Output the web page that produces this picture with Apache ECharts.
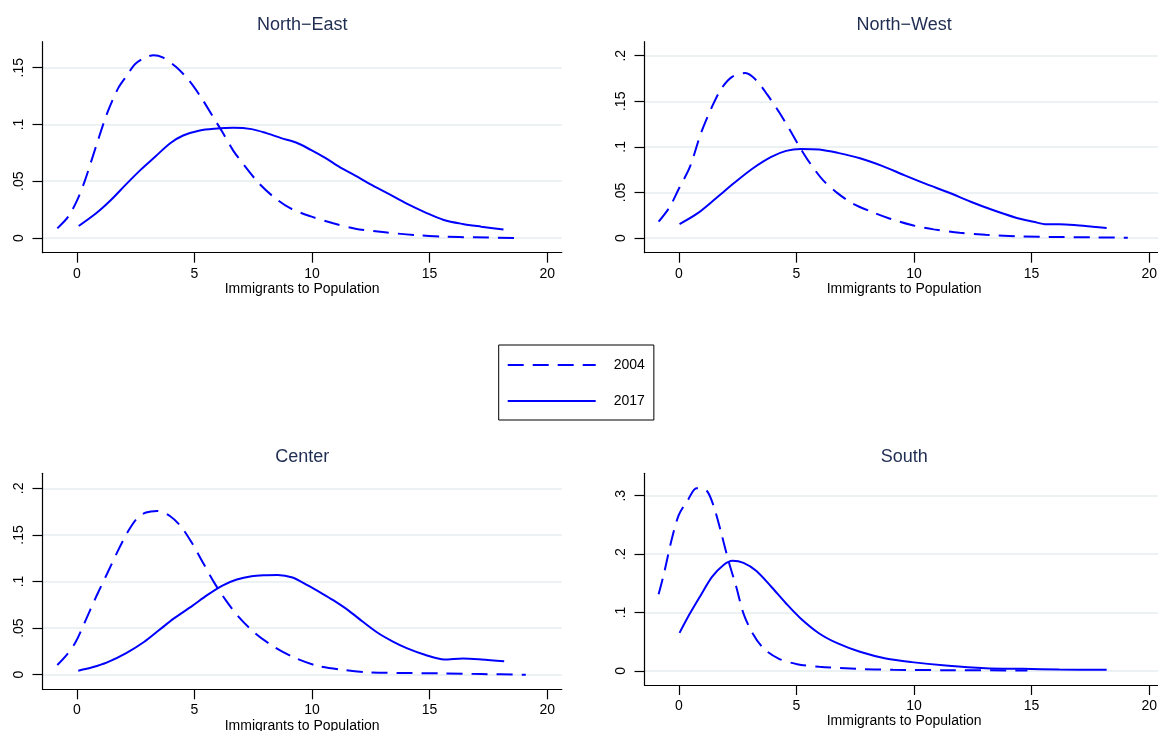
<!DOCTYPE html>
<html>
<head>
<meta charset="utf-8">
<script src="https://cdn.jsdelivr.net/npm/echarts@6/dist/echarts.min.js"></script>
<style>
html,body{margin:0;padding:0;background:#fff;}
#chart{width:1158px;height:731px;}
</style>
</head>
<body>
<div id="chart"></div>
<script>
// ---- data ----
const panelTitles = ['North\u2212East', 'North\u2212West', 'Center', 'South'];
const seriesNames = ['2004', '2017'];
const xTicks = [0, 5, 10, 15, 20];
const yTicksNE = [0, 0.05, 0.1, 0.15];
const yTicksNW = [0, 0.05, 0.1, 0.15, 0.2];
const yTicksCenter = [0, 0.05, 0.1, 0.15, 0.2];
const yTicksSouth = [0, 0.1, 0.2, 0.3];
const xAxisTitle = 'Immigrants to Population';

const ne2004 = [[-0.83,0.0085],[-0.36,0.019],[0.03,0.034],[0.35,0.051],[0.82,0.081],[1.29,0.11],[1.76,0.132],[2.16,0.144],[2.47,0.153],[2.87,0.1585],[3.26,0.161],[3.65,0.159],[4.2,0.151],[4.76,0.139],[5.31,0.123],[5.78,0.107],[6.17,0.094],[6.65,0.077],[7.12,0.064],[7.75,0.048],[8.38,0.036],[9.09,0.026],[9.95,0.019],[10.9,0.013],[11.84,0.0082],[13.1,0.005],[14.36,0.0026],[15.6,0.0012],[16.9,0.0006],[18.85,0.0]];
const ne2017 = [[0.08,0.0106],[0.82,0.0218],[1.45,0.0335],[2.08,0.047],[2.71,0.06],[3.34,0.0718],[3.97,0.0835],[4.52,0.0903],[5.23,0.0947],[5.86,0.0962],[6.65,0.097],[7.43,0.0959],[8.06,0.0924],[8.69,0.088],[9.32,0.0841],[9.95,0.0776],[10.58,0.0703],[11.21,0.062],[11.84,0.055],[12.47,0.0474],[13.26,0.0388],[14.05,0.03],[14.83,0.0224],[15.6,0.0159],[16.4,0.0124],[17.2,0.01],[18.14,0.0074]];

const nw2004 = [[-0.86,0.0179],[-0.39,0.034],[0.0,0.054],[0.47,0.078],[0.94,0.115],[1.41,0.144],[1.81,0.164],[2.28,0.177],[2.83,0.181],[3.3,0.173],[3.77,0.157],[4.24,0.139],[4.71,0.119],[5.11,0.101],[5.58,0.082],[6.13,0.0635],[6.76,0.049],[7.38,0.038],[8.17,0.029],[8.95,0.0215],[9.9,0.0142],[10.84,0.0095],[11.94,0.0058],[13.04,0.0036],[14.6,0.0018],[16.2,0.0011],[17.75,0.0007],[19.09,0.0004]];
const nw2017 = [[0.03,0.0153],[0.79,0.027],[1.57,0.0434],[2.36,0.0606],[3.14,0.0763],[3.93,0.089],[4.56,0.0956],[5.18,0.0978],[5.97,0.0971],[6.76,0.0934],[7.7,0.0876],[8.64,0.0792],[9.58,0.069],[10.53,0.0591],[11.47,0.05],[12.41,0.0398],[13.35,0.0307],[14.3,0.0226],[15.08,0.0179],[15.63,0.015],[16.18,0.015],[16.81,0.0142],[17.6,0.0124],[18.19,0.011]];

const center2004 = [[-0.83,0.0104],[-0.44,0.021],[-0.05,0.035],[0.35,0.057],[0.82,0.0836],[1.29,0.1086],[1.76,0.1336],[2.16,0.153],[2.55,0.1675],[2.94,0.174],[3.42,0.1757],[3.97,0.17],[4.44,0.1586],[4.91,0.1407],[5.39,0.119],[5.86,0.098],[6.33,0.08],[6.88,0.062],[7.59,0.0443],[8.38,0.03],[9.32,0.0175],[10.27,0.0093],[11.37,0.005],[12.47,0.0025],[14.05,0.0018],[15.6,0.0014],[17.2,0.0007],[19.09,0.0]];
const center2017 = [[0.06,0.0043],[0.66,0.0079],[1.29,0.0132],[2.08,0.0229],[2.87,0.0354],[3.5,0.0479],[4.13,0.0604],[4.91,0.0739],[5.54,0.0854],[6.17,0.0954],[6.8,0.1021],[7.43,0.1057],[8.06,0.1068],[8.54,0.1071],[9.17,0.1043],[9.8,0.0961],[10.43,0.0871],[10.9,0.08],[11.53,0.0693],[12.16,0.0568],[12.79,0.045],[13.42,0.0358],[14.05,0.0282],[14.83,0.0211],[15.62,0.0164],[16.41,0.0175],[17.2,0.0164],[18.17,0.0143]];

const south2004 = [[-0.86,0.131],[-0.63,0.167],[-0.31,0.224],[0.0,0.267],[0.39,0.293],[0.75,0.313],[1.18,0.309],[1.49,0.281],[1.81,0.235],[2.12,0.187],[2.44,0.144],[2.75,0.098],[3.14,0.064],[3.61,0.038],[4.24,0.021],[5.03,0.0114],[5.97,0.0069],[7.54,0.0034],[9.11,0.0017],[11.47,0.0011],[14.82,0.0006]];
const south2017 = [[0.03,0.065],[0.47,0.098],[0.94,0.13],[1.41,0.161],[1.89,0.181],[2.28,0.1886],[2.75,0.185],[3.3,0.171],[3.93,0.144],[4.56,0.1154],[5.18,0.0897],[5.97,0.064],[6.76,0.0469],[7.7,0.0326],[8.8,0.0211],[9.9,0.0149],[11.47,0.0086],[13.04,0.0046],[14.61,0.0034],[16.18,0.0023],[18.19,0.0017]];

// ---- layout ----
const FONT = '"Liberation Sans", Arial, Helvetica, sans-serif';
const BLUE = '#0000ff';
const panels = [
  {title: panelTitles[0], d04: ne2004, d17: ne2017, yTicks: yTicksNE, yMin: -0.01295, yMax: 0.1729,
   grid: {left: 42.5, top: 41.7, width: 519.3, height: 211}, titleTop: 16},
  {title: panelTitles[1], d04: nw2004, d17: nw2017, yTicks: yTicksNW, yMin: -0.0161, yMax: 0.2154,
   grid: {left: 644.5, top: 41.7, width: 519.3, height: 211}, titleTop: 16},
  {title: panelTitles[2], d04: center2004, d17: center2017, yTicks: yTicksCenter, yMin: -0.01567, yMax: 0.2161,
   grid: {left: 42.5, top: 473.3, width: 519.3, height: 216}, titleTop: 448},
  {title: panelTitles[3], d04: south2004, d17: south2017, yTicks: yTicksSouth, yMin: -0.0243, yMax: 0.3384,
   grid: {left: 644.5, top: 473.3, width: 519.3, height: 211.7}, titleTop: 448}
];
const X_MIN = -1.46, X_MAX = 20.62;

const fmtY = v => (v === 0 ? '0' : String(+v.toFixed(4)).replace(/^0\./, '.'));

const option = {
  animation: false,
  backgroundColor: '#ffffff',
  title: panels.map(p => ({
    text: p.title,
    left: p.grid.left + p.grid.width / 2,
    top: p.titleTop,
    textAlign: 'center',
    padding: 0,
    textStyle: {fontFamily: FONT, fontSize: 18, fontWeight: 'normal', color: '#1f2d52'}
  })),
  legend: {
    data: seriesNames,
    orient: 'vertical',
    left: 498.7,
    top: 345,
    itemWidth: 88,
    itemHeight: 14,
    itemGap: 22,
    padding: [13, 9, 12, 8],
    borderColor: '#000',
    borderWidth: 1,
    itemStyle: {opacity: 0},
    textStyle: {fontFamily: FONT, fontSize: 14, color: '#000', padding: [0, 0, 0, 13]}
  },
  grid: panels.map(p => Object.assign({containLabel: false, outerBoundsMode: 'none'}, p.grid)),
  xAxis: panels.map((p, i) => ({
    type: 'value', gridIndex: i, min: X_MIN, max: X_MAX,
    name: xAxisTitle, nameLocation: 'middle', nameGap: 29.5,
    nameTextStyle: {fontFamily: FONT, fontSize: 14, color: '#000'},
    axisLine: {onZero: false, lineStyle: {color: '#000', width: 1.2}},
    axisTick: {show: true, length: 10, customValues: xTicks, lineStyle: {color: '#000', width: 1.2}},
    axisLabel: {customValues: xTicks, fontFamily: FONT, fontSize: 14, color: '#000', margin: 14},
    splitLine: {show: false}
  })),
  yAxis: panels.map((p, i) => ({
    type: 'value', gridIndex: i, min: p.yMin, max: p.yMax,
    axisLine: {show: true, onZero: false, lineStyle: {color: '#000', width: 1.2}},
    axisTick: {show: true, length: 10, customValues: p.yTicks, lineStyle: {color: '#000', width: 1.2}},
    axisLabel: {customValues: p.yTicks, rotate: 90, fontFamily: FONT, fontSize: 14, color: '#000', margin: 16, formatter: fmtY},
    splitLine: {show: true, lineStyle: {color: '#e6eef1', width: 1.5}}
  })),
  series: []
};

panels.forEach((p, i) => {
  option.series.push({
    name: seriesNames[0], type: 'line', xAxisIndex: i, yAxisIndex: i,
    data: p.d04, smooth: 0.3, symbol: 'none', showSymbol: false,
    lineStyle: {color: BLUE, width: 2, type: [16, 9]}, itemStyle: {color: BLUE}, z: 3
  });
  option.series.push({
    name: seriesNames[1], type: 'line', xAxisIndex: i, yAxisIndex: i,
    data: p.d17, smooth: 0.3, symbol: 'none', showSymbol: false,
    lineStyle: {color: BLUE, width: 2, type: 'solid'}, itemStyle: {color: BLUE}, z: 3
  });
});

const chart = echarts.init(document.getElementById('chart'), null, {renderer: 'canvas'});
chart.setOption(option);
</script>
</body>
</html>
